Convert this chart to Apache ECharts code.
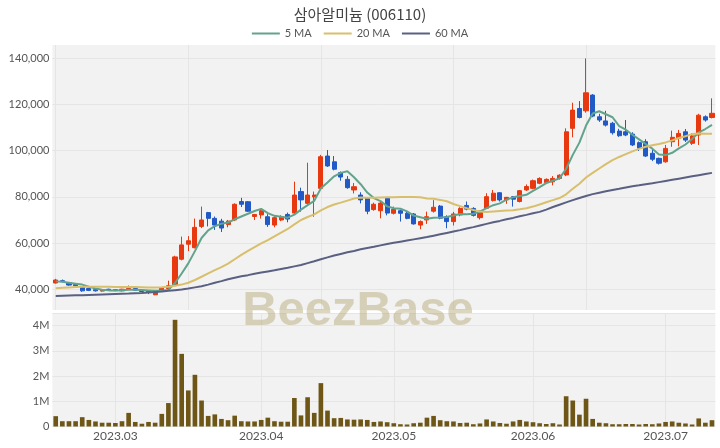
<!DOCTYPE html>
<html><head><meta charset="utf-8">
<script src="https://cdn.jsdelivr.net/npm/echarts@6/dist/echarts.min.js"></script>
<style>html,body{margin:0;padding:0;background:#fff}#c{width:720px;height:448px}</style>
</head><body><div id="c"></div>
<script>
// trading days per month (categories)
const monthDays = [
  ['2023-02', [16,17,20,21,22,23,24,27,28]],
  ['2023-03', [2,3,6,7,8,9,10,13,14,15,16,17,20,21,22,23,24,27,28,29,30,31]],
  ['2023-04', [3,4,5,6,7,10,11,12,13,14,17,18,19,20,21,24,25,26,27,28]],
  ['2023-05', [2,3,4,8,9,10,11,12,15,16,17,18,19,22,23,24,25,26,29,30,31]],
  ['2023-06', [1,2,5,7,8,9,12,13,14,15,16,19,20,21,22,23,26,27,28,29]],
  ['2023-07', [3,4,5,6,7,10,11,12]]
];
const categories = monthDays.flatMap(([m, ds]) => ds.map(d => m + '-' + String(d).padStart(2, '0')));

const opens = [42700,43700,42800,42000,40800,40300,39800,39200,40000,39800,
  39300,40200,40300,39500,39300,37600,39500,40300,41800,53000,
  59500,58000,67200,73200,70700,69500,68000,70000,78000,77900,
  71500,72200,71400,67800,70000,72400,73000,82300,77200,80000,
  83700,97700,95200,90500,87600,83000,80800,79400,74500,74000,
  79400,72900,74000,72900,72600,67800,70000,73800,76000,71400,
  69300,72200,76300,75000,71000,75100,78400,81800,78700,80100,
  78000,83000,83700,85900,86200,86500,88000,89500,109700,118300,
  117300,124100,114700,112900,111900,108500,108200,107200,103500,103900,
  98900,96700,95200,103900,105400,108200,103200,106800,114700,114400];
const closes = [44000,43300,41800,41500,39300,39500,39300,39600,39600,39400,
  40000,40400,39600,39000,38600,39000,40500,41500,54000,59200,
  61000,66800,70000,70700,67800,66500,69500,76800,76800,73800,
  72400,74000,68000,71000,71400,70400,80800,78700,80800,80800,
  97400,93400,92000,88600,84000,84400,78700,73800,76800,77300,
  73000,74600,72900,70700,68300,69300,71400,75500,70800,69300,
  72600,75000,74700,72000,73800,80100,81600,78700,79800,79000,
  82700,84500,87000,88000,87600,88000,89400,108200,117600,114400,
  125100,115000,113300,111100,107800,106500,106800,102500,101100,97700,
  96300,94600,101000,105800,107500,104600,106400,115400,113300,116200];
const highs = [44500,44200,43000,42300,41000,40600,40100,39900,40200,40000,
  40200,41600,40500,39700,39400,39200,40700,43700,54500,62800,
  63000,70600,75800,73500,71500,70500,70000,77200,79600,78200,
  72600,74800,72500,71600,72000,73200,86600,84000,94800,82300,
  98200,100300,97700,91000,89000,86000,82000,79600,77500,77800,
  80000,75800,74500,73500,73000,69800,73600,78600,76500,72000,
  73500,75500,78000,75500,74200,81600,83000,82000,80000,80400,
  83000,85400,87500,88500,88000,89000,89800,109700,120800,121500,
  140000,124500,116000,117300,112500,109500,113300,108000,104000,105000,
  100500,97000,102500,108700,109000,109400,107500,116000,115300,122700];
const lows = [42500,43000,41500,41200,38900,39200,39000,39000,39400,39200,
  39100,39800,39400,38800,37900,37400,39300,40000,41500,52500,
  56500,57700,66500,67200,65700,64800,66800,69500,75600,73500,
  70000,70600,67000,66800,69500,69000,72500,73600,76500,71400,
  83000,93000,91500,87000,83500,81500,77200,72500,74000,70700,
  72000,72400,69300,70300,68000,66000,68300,73200,70300,66400,
  67600,71600,74200,71500,70200,74800,78000,78000,77000,75800,
  77600,82600,83300,85500,85800,85000,87500,89000,105800,114000,
  116500,114500,112500,110500,107000,106000,106300,102000,99900,97300,
  95500,94000,94800,101700,101900,103800,102500,102500,112600,114000];

const ma5 = [43400,43200,42800,42400,42000,41100,40300,39800,39500,39500,
  39600,39800,39800,39700,39500,39300,39300,39700,42700,46800,
  51200,56500,62200,65500,67300,68400,68900,70300,71500,72700,
  73900,74800,73000,71800,71400,71000,72300,74500,76400,78300,
  83700,86200,88900,90400,91100,88500,85500,81900,79500,78200,
  75900,75100,74900,73700,71900,71200,70500,71000,71100,71300,
  71900,72600,72500,72700,73600,75100,76400,77200,78800,79800,
  80400,80900,82600,84200,86000,87000,88000,92200,98200,103500,
  110900,116100,117100,115800,114500,110700,109100,106900,104900,102900,
  100900,98400,98100,99100,101000,102700,105100,107900,109400,111200];
const ma20 = [40400,40600,40800,41000,41100,41100,41100,41100,41100,41000,
  41000,41000,41000,40900,40800,40800,40900,41100,41500,42000,
  42800,44000,45400,46900,48300,49600,51100,53000,54900,56600,
  58200,59900,61300,62900,64500,66100,68100,70000,71300,72400,
  74200,75600,76700,77500,78400,79300,79700,79600,79600,79700,
  79800,79800,80000,80000,79900,79800,79300,79200,78700,78100,
  76900,76000,75100,74300,73700,73500,73700,73900,74100,74200,
  74600,75100,75800,76700,77700,78600,79500,81100,83500,85700,
  88400,90400,92300,94200,95900,97300,98500,99700,100800,101700,
  102400,102900,103600,104500,105500,106300,107200,107500,107300,107400];
const ma60 = [37100,37200,37300,37400,37400,37500,37600,37700,37800,37900,
  38000,38100,38300,38400,38600,38800,39000,39300,39600,39900,
  40300,40800,41300,42000,42800,43500,44300,45000,45600,46100,
  46700,47200,47700,48200,48800,49300,49900,50500,51300,52100,
  53000,53800,54600,55300,56000,56600,57300,57900,58400,59000,
  59600,60100,60600,61100,61600,62100,62600,63200,63800,64400,
  65000,65600,66300,66900,67600,68300,69000,69600,70300,70900,
  71600,72200,72900,73500,74500,75600,76600,77600,78600,79500,
  80400,81200,81800,82400,83000,83500,84100,84600,85000,85500,
  85900,86400,86900,87400,87900,88400,88900,89400,89900,90400];

const volumes = [410000,210000,210000,210000,370000,260000,200000,150000,150000,140000,
  210000,540000,180000,110000,180000,150000,500000,930000,4230000,2880000,
  1430000,2050000,1030000,420000,480000,300000,250000,430000,210000,200000,
  200000,260000,350000,210000,190000,190000,1130000,440000,1160000,540000,
  1720000,630000,330000,340000,280000,270000,280000,260000,180000,200000,
  170000,130000,90000,80000,130000,150000,350000,420000,250000,210000,
  200000,140000,150000,90000,120000,280000,200000,140000,110000,200000,
  260000,200000,170000,130000,100000,130000,80000,1200000,1030000,470000,
  1100000,300000,150000,130000,90000,90000,100000,100000,80000,100000,
  90000,120000,180000,200000,150000,120000,80000,320000,150000,250000];

const priceTicks = [40000,60000,80000,100000,120000,140000];

const monthStart = (idx) => idx > 0 && categories[idx].slice(0,7) !== categories[idx-1].slice(0,7);

const GRID_BG = '#f2f2f2', LINE = '#e5e5e5', TXT = '#555';
const chart = echarts.init(document.getElementById('c'));
chart.setOption({
  animation: false,
  backgroundColor: '#fff',
  title: {text: '삼아알미늄 (006110)', left: 'center', top: 2,
    textStyle: {fontSize: 15, fontWeight: 'normal', color: '#444', fontFamily: '"Noto Sans CJK KR", sans-serif'}},
  legend: {top: 23, left: 'center', icon: 'rect', itemWidth: 28, itemHeight: 2, itemGap: 12,
    data: ['5 MA','20 MA','60 MA'],
    textStyle: {fontSize: 11, color: TXT, fontFamily: 'Lato, sans-serif'}},
  grid: [
    {left: 52.4, right: 4.7, top: 45, height: 265, show: true, backgroundColor: GRID_BG, borderWidth: 0},
    {left: 52.4, right: 4.7, top: 313, height: 113.5, show: true, backgroundColor: GRID_BG, borderWidth: 0}
  ],
  xAxis: [
    {type: 'category', gridIndex: 0, data: categories, axisLine: {show: false}, axisTick: {show: false},
      axisLabel: {show: false},
      splitLine: {show: true, interval: 19, alignWithLabel: true, lineStyle: {color: LINE}}},
    {type: 'category', gridIndex: 1, data: categories, axisLine: {show: false},
      axisTick: {show: false, alignWithLabel: true, interval: (i) => monthStart(i)},
      axisLabel: {interval: (i) => monthStart(i), formatter: v => v.slice(0,7).replace('-', '.'),
        color: TXT, fontSize: 12, margin: 4, fontFamily: 'Lato, sans-serif'},
      splitLine: {show: true, interval: (i) => monthStart(i), alignWithLabel: true, lineStyle: {color: LINE}}}
  ],
  yAxis: [
    {type: 'value', gridIndex: 0, min: 31000, max: 145800, axisLine: {show: false},
      axisTick: {show: false, customValues: priceTicks},
      axisLabel: {customValues: priceTicks, color: TXT, fontSize: 11, margin: 3, fontFamily: 'Lato, sans-serif',
        formatter: v => v.toLocaleString('en-US')},
      splitLine: {show: true, lineStyle: {color: LINE}}},
    {type: 'value', gridIndex: 1, min: 0, max: 4500000, interval: 1000000, axisLine: {show: false},
      axisTick: {show: false},
      axisLabel: {color: TXT, fontSize: 11, margin: 3, showMaxLabel: false, fontFamily: 'Lato, sans-serif',
        formatter: v => v === 0 ? '0' : (v / 1000000) + 'M'},
      splitLine: {show: true, lineStyle: {color: LINE}}}
  ],
  series: [
    {type: 'candlestick', name: 'price', xAxisIndex: 0, yAxisIndex: 0, barWidth: 4.6,
      data: categories.map((_, i) => [opens[i], closes[i], lows[i], highs[i]]),
      itemStyle: {color: '#e8380f', color0: '#2159c6', borderColor: '#e8380f', borderColor0: '#2159c6', borderWidth: 1}},
    {type: 'line', name: '5 MA', xAxisIndex: 0, yAxisIndex: 0, data: ma5, symbol: 'none',
      lineStyle: {color: '#62a38c', width: 2}, itemStyle: {color: '#62a38c'}},
    {type: 'line', name: '20 MA', xAxisIndex: 0, yAxisIndex: 0, data: ma20, symbol: 'none',
      lineStyle: {color: '#d8bf6c', width: 2}, itemStyle: {color: '#d8bf6c'}},
    {type: 'line', name: '60 MA', xAxisIndex: 0, yAxisIndex: 0, data: ma60, symbol: 'none',
      lineStyle: {color: '#596082', width: 2}, itemStyle: {color: '#596082'}},
    {type: 'bar', name: 'volume', xAxisIndex: 1, yAxisIndex: 1, data: volumes, barWidth: '70%',
      itemStyle: {color: '#6e5716'}}
  ],
  graphic: [{type: 'text', x: 358, y: 311, z: 100, silent: true,
    style: {text: 'BeezBase', align: 'center', verticalAlign: 'middle',
      font: 'bold 49px "Liberation Sans", Arial, sans-serif', fill: 'rgba(180,165,110,0.45)'}}]
});
</script></body></html>
